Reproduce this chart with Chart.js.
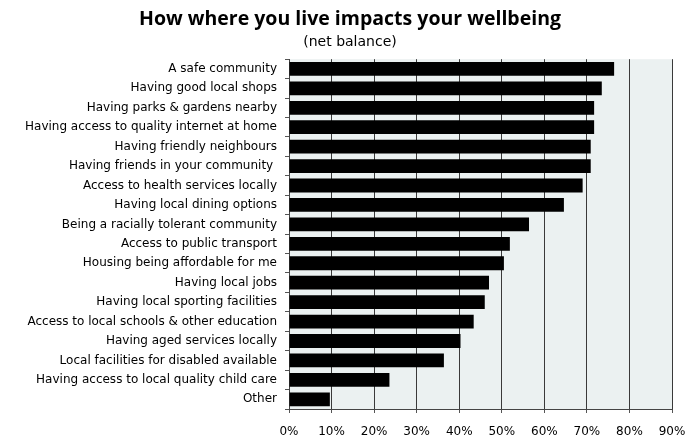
<!DOCTYPE html>
<html>
<head>
<meta charset="utf-8">
<script src="https://cdn.jsdelivr.net/npm/chart.js@4/dist/chart.umd.min.js"></script>
<style>
  html, body { margin: 0; padding: 0; background: #fff; }
  #wrap { width: 700px; height: 438px; }
</style>
</head>
<body>
<div id="wrap"><canvas id="bars"></canvas></div>
<script>
const categories = [
  'A safe community',
  'Having good local shops',
  'Having parks & gardens nearby',
  'Having access to quality internet at home',
  'Having friendly neighbours',
  'Having friends in your community ',
  'Access to health services locally',
  'Having local dining options',
  'Being a racially tolerant community',
  'Access to public transport',
  'Housing being affordable for me',
  'Having local jobs',
  'Having local sporting facilities',
  'Access to local schools & other education',
  'Having aged services locally',
  'Local facilities for disabled available',
  'Having access to local quality child care',
  'Other'
]
const netBalance = [76.4, 73.5, 71.7, 71.7, 70.9, 70.9, 69.0, 64.6, 56.4, 51.9,
  50.5, 47.0, 46.0, 43.4, 40.3, 36.4, 23.6, 9.6]
const xMax = 90
const xStep = 10

// light panel behind the bars
const plotBg = {
  id: 'plotBg',
  beforeDraw(chart) {
    const { ctx, chartArea: a } = chart
    ctx.save()
    ctx.fillStyle = '#ebf1f1'
    ctx.fillRect(a.left, a.top, a.right - a.left, a.bottom - a.top)
    ctx.restore()
  }
}

// title + subtitle span the whole canvas so they sit in the middle of the page
const centreTitles = {
  id: 'centreTitles',
  afterLayout(chart) {
    for (const b of chart.boxes) {
      if (b.position === 'top' && b.options && 'text' in b.options) {
        b.left = 0
        b.right = chart.width
      }
    }
  }
}

const labelFont = { family: 'DejaVu Sans', size: 12 }

const cfg = {
  type: 'bar',
  data: {
    labels: categories,
    datasets: [{
      data: netBalance,
      backgroundColor: '#000',
      borderWidth: 0,
      barPercentage: 0.71,
      categoryPercentage: 1
    }]
  },
  options: {
    indexAxis: 'y',
    responsive: false,
    animation: false,
    layout: { padding: { left: 0, right: 28, top: 0, bottom: 0 } },
    plugins: {
      legend: { display: false },
      tooltip: { enabled: false },
      title: {
        display: true,
        text: 'How where you live impacts your wellbeing',
        color: '#000',
        font: { family: 'Open Sans', size: 19.5, weight: 'bold' },
        padding: { top: 8, bottom: 0 }
      },
      subtitle: {
        display: true,
        text: '(net balance)',
        color: '#000',
        font: { family: 'DejaVu Sans', size: 14 },
        padding: { top: 3, bottom: 8 }
      }
    },
    scales: {
      x: {
        min: 0,
        max: xMax,
        ticks: {
          stepSize: xStep,
          color: '#000',
          font: labelFont,
          padding: 12,
          callback: v => v + '%'
        },
        grid: { color: '#3a3a3a', tickColor: '#555', tickLength: 4 },
        border: { color: '#444' },
        afterFit: s => { s.height = 29 }
      },
      y: {
        ticks: { color: '#000', font: labelFont, padding: 8, autoSkip: false },
        grid: { offset: true, drawOnChartArea: false, tickColor: '#555', tickLength: 4 },
        border: { color: '#444' },
        afterFit: s => { s.width = 289 }
      }
    }
  },
  plugins: [plotBg, centreTitles]
}

const el = document.getElementById('bars')
el.width = 700
el.height = 438
new Chart(el, cfg)
</script>
</body>
</html>
